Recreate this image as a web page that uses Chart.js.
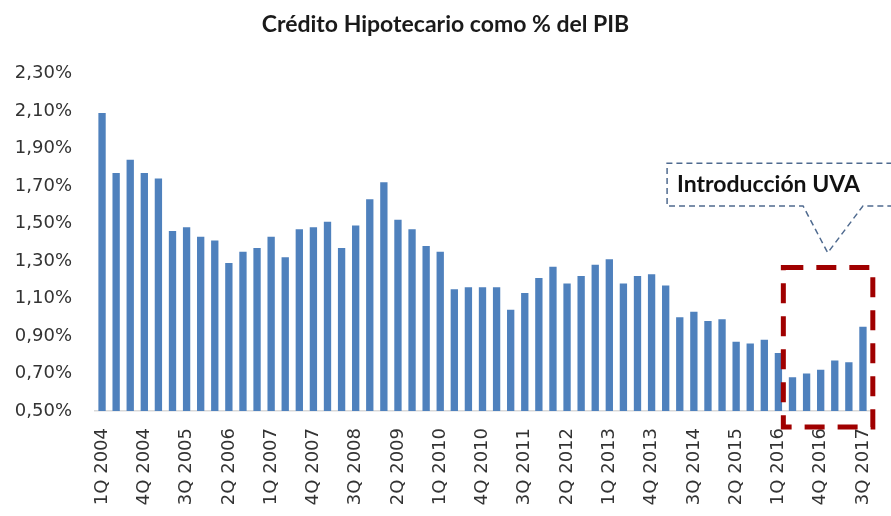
<!DOCTYPE html>
<html><head><meta charset="utf-8">
<script src="https://cdn.jsdelivr.net/npm/chart.js@4/dist/chart.umd.min.js"></script>
<style>html,body{margin:0;padding:0;background:#fff}#wrap{width:891px;height:516px;position:relative}</style>
</head><body><div id="wrap"><canvas id="c"></canvas></div>
<script>
const quarters = [
 '1Q 2004','2Q 2004','3Q 2004','4Q 2004',
 '1Q 2005','2Q 2005','3Q 2005','4Q 2005',
 '1Q 2006','2Q 2006','3Q 2006','4Q 2006',
 '1Q 2007','2Q 2007','3Q 2007','4Q 2007',
 '1Q 2008','2Q 2008','3Q 2008','4Q 2008',
 '1Q 2009','2Q 2009','3Q 2009','4Q 2009',
 '1Q 2010','2Q 2010','3Q 2010','4Q 2010',
 '1Q 2011','2Q 2011','3Q 2011','4Q 2011',
 '1Q 2012','2Q 2012','3Q 2012','4Q 2012',
 '1Q 2013','2Q 2013','3Q 2013','4Q 2013',
 '1Q 2014','2Q 2014','3Q 2014','4Q 2014',
 '1Q 2015','2Q 2015','3Q 2015','4Q 2015',
 '1Q 2016','2Q 2016','3Q 2016','4Q 2016',
 '1Q 2017','2Q 2017','3Q 2017'
];
const shownTickLabels = ['1Q 2004','4Q 2004','3Q 2005','2Q 2006','1Q 2007','4Q 2007','3Q 2008','2Q 2009','1Q 2010','4Q 2010','3Q 2011','2Q 2012','1Q 2013','4Q 2013','3Q 2014','2Q 2015','1Q 2016','4Q 2016','3Q 2017'];
const creditoPIB = [
 2.09,1.77,1.84,1.77,1.74,1.46,1.48,1.43,1.41,1.29,
 1.35,1.37,1.43,1.32,1.47,1.48,1.51,1.37,1.49,1.63,
 1.72,1.52,1.47,1.38,1.35,1.15,1.16,1.16,1.16,1.04,
 1.13,1.21,1.27,1.18,1.22,1.28,1.31,1.18,1.22,1.23,
 1.17,1.00,1.03,0.98,0.99,0.87,0.86,0.88,0.81,0.68,
 0.70,0.72,0.77,0.76,0.95
];
const yTickValues = [0.5,0.7,0.9,1.1,1.3,1.5,1.7,1.9,2.1,2.3];
const chartTitle = 'Crédito Hipotecario como % del PIB';
const calloutText = 'Introducción UVA';

const annotationPlugin = {
  id: 'uvaAnnot',
  afterDraw(chart) {
    const ctx = chart.ctx, xs = chart.scales.x, ys = chart.scales.y;
    ctx.save();
    // red dashed rectangle
    const rl = xs.getPixelForValue(48.35), rr = xs.getPixelForValue(54.7);
    const rt = ys.getPixelForValue(1.265), rb = ys.getPixelForValue(0.415);
    ctx.strokeStyle = '#A00000';
    ctx.lineWidth = 5;
    ctx.setLineDash([20, 13]);
    ctx.strokeRect(rl, rt, rr - rl, rb - rt);
    // callout
    const bl = xs.getPixelForValue(40.1), br = xs.getPixelForValue(56.8);
    const bt = ys.getPixelForValue(1.822), bb = ys.getPixelForValue(1.594);
    const pl = xs.getPixelForValue(49.75), pr = xs.getPixelForValue(54.0);
    const tx = xs.getPixelForValue(51.5), ty = ys.getPixelForValue(1.344);
    ctx.strokeStyle = '#4F6A8F';
    ctx.lineWidth = 1.5;
    ctx.setLineDash([6, 4]);
    ctx.beginPath();
    ctx.moveTo(br, bt); ctx.lineTo(bl, bt); ctx.lineTo(bl, bb);
    ctx.lineTo(pl, bb); ctx.lineTo(tx, ty); ctx.lineTo(pr, bb); ctx.lineTo(br, bb);
    ctx.stroke();
    ctx.setLineDash([]);
    ctx.fillStyle = '#111';
    ctx.font = 'bold 23px Lato';
    ctx.textAlign = 'left';
    ctx.textBaseline = 'middle';
    ctx.fillText(calloutText, bl + 10, (bt + bb) / 2);
    ctx.restore();
  }
};

new Chart(document.getElementById('c'), {
  type: 'bar',
  data: {
    labels: quarters,
    datasets: [{ data: creditoPIB, backgroundColor: '#4F81BD', borderWidth: 0, barPercentage: 0.52, categoryPercentage: 1 }]
  },
  options: {
    responsive: true, maintainAspectRatio: false, animation: false,
    layout: { padding: { left: 0, right: 0, top: 0, bottom: 0 } },
    plugins: {
      legend: { display: false }, tooltip: { enabled: false },
      title: { display: true, text: chartTitle, color: '#1a1a1a', font: { family: 'Lato', size: 23, weight: 'bold' }, padding: { top: 11, bottom: 35 } }
    },
    scales: {
      x: {
        offset: true,
        grid: { display: false, drawTicks: false },
        border: { display: true, color: '#D9D9D9', width: 1.5 },
        ticks: {
          autoSkip: false, minRotation: 90, maxRotation: 90, padding: 17,
          color: '#333', font: { family: 'DejaVu Sans', size: 18 },
          callback(v) { const l = this.getLabelForValue(v); return shownTickLabels.includes(l) ? l : ''; }
        },
        afterFit(s) { s.height = 105; s.paddingLeft = 0; s.paddingRight = 21; }
      },
      y: {
        min: 0.5, max: 2.3,
        grid: { display: false, drawTicks: false },
        border: { display: false },
        afterBuildTicks(s) { s.ticks = yTickValues.map(v => ({ value: v })); },
        ticks: {
          padding: 23, color: '#333', font: { family: 'DejaVu Sans', size: 18 },
          callback(v) { return v.toFixed(2).replace('.', ',') + '%'; }
        },
        afterFit(s) { s.width = 95; }
      }
    }
  },
  plugins: [annotationPlugin]
});
</script></body></html>
